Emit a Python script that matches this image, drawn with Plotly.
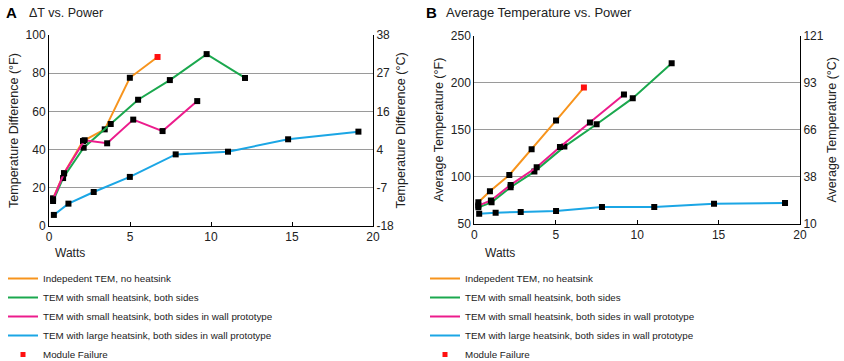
import plotly.graph_objects as go

# ---------------- data ----------------
series_names = [
    "Indepedent TEM, no heatsink",
    "TEM with small heatsink, both sides",
    "TEM with small heatsink, both sides in wall prototype",
    "TEM with large heatsink, both sides in wall prototype",
]
series_colors = ["#F7941D", "#1BA84E", "#EC1C8C", "#1BA6E5"]

# Panel A: Temperature difference (°F) vs watts
a_orange_x = [0.25, 0.93, 2.1, 3.44, 4.99, 6.7]
a_orange_y = [14.5, 27.6, 44.5, 50.6, 77.6, 88.5]
a_green_x = [0.25, 0.87, 2.14, 3.81, 5.5, 7.46, 9.73, 12.1]
a_green_y = [13.1, 25.1, 41.0, 53.4, 66.1, 76.4, 90.0, 77.5]
a_magenta_x = [0.25, 0.93, 2.2, 3.59, 5.2, 7.01, 9.15]
a_magenta_y = [14.0, 27.6, 44.9, 43.3, 55.7, 49.7, 65.4]
a_blue_x = [0.3, 1.2, 2.76, 4.99, 7.82, 11.05, 14.76, 19.1]
a_blue_y = [5.8, 11.7, 17.8, 25.7, 37.5, 38.9, 45.4, 49.4]

# Panel B: Average temperature (°F) vs watts
b_orange_x = [0.25, 0.96, 2.15, 3.52, 5.02, 6.73]
b_orange_y = [73.0, 84.7, 102.0, 129.3, 159.7, 194.8]
b_green_x = [0.25, 1.06, 2.23, 3.69, 5.53, 7.51, 9.73, 12.12]
b_green_y = [67.7, 73.0, 89.0, 105.6, 132.1, 155.8, 183.5, 220.6]
b_magenta_x = [0.25, 1.02, 2.23, 3.83, 5.26, 7.1, 9.19]
b_magenta_y = [69.5, 75.0, 91.5, 110.2, 131.8, 157.6, 187.3]
b_blue_x = [0.3, 1.31, 2.85, 5.02, 7.84, 11.05, 14.72, 19.08]
b_blue_y = [61.0, 62.0, 62.7, 63.8, 68.0, 68.0, 71.6, 72.3]

a_ticks_f = [0, 20, 40, 60, 80, 100]
a_ticks_c = ["-18", "-7", "4", "16", "27", "38"]
b_ticks_f = [50, 100, 150, 200, 250]
b_ticks_c = ["10", "38", "66", "93", "121"]
x_ticks = [0, 5, 10, 15, 20]

FONT = "Liberation Sans, Arial, sans-serif"
fig = go.Figure()

panels = [
    ("x", "y", [(a_orange_x, a_orange_y), (a_green_x, a_green_y),
                (a_magenta_x, a_magenta_y), (a_blue_x, a_blue_y)]),
    ("x2", "y3", [(b_orange_x, b_orange_y), (b_green_x, b_green_y),
                  (b_magenta_x, b_magenta_y), (b_blue_x, b_blue_y)]),
]
for xa, ya, data in panels:
    for i, (xs, ys) in enumerate(data):
        mcols = ["black"] * len(xs)
        if i == 0:
            mcols[-1] = "#FF1010"
        fig.add_trace(go.Scatter(
            x=xs, y=ys, xaxis=xa, yaxis=ya, mode="lines+markers",
            line=dict(color=series_colors[i], width=2),
            marker=dict(symbol="square", size=6, color=mcols),
            showlegend=False, hoverinfo="skip"))

# legend-only traces
for lg in ["legend", "legend2"]:
    for i, name in enumerate(series_names):
        fig.add_trace(go.Scatter(x=[None], y=[None], mode="lines", name=name,
                                 line=dict(color=series_colors[i], width=2),
                                 legend=lg, xaxis="x", yaxis="y"))
    fig.add_trace(go.Scatter(x=[None], y=[None], mode="markers", name="Module Failure",
                             marker=dict(symbol="square", size=5, color="#FF1010"),
                             legend=lg, xaxis="x", yaxis="y"))

fig.add_trace(go.Scatter(x=[None], y=[None], xaxis="x", yaxis="y2", showlegend=False))
fig.add_trace(go.Scatter(x=[None], y=[None], xaxis="x2", yaxis="y4", showlegend=False))

W, H = 844, 361
common = dict(showline=True, linecolor="black", linewidth=1, mirror=False, zeroline=False,
              automargin=False, tickfont=dict(size=12, color="#222"))
xcommon = dict(ticks="inside", ticklen=4, tickcolor="black", showgrid=False, **common)
ycommon = dict(ticks="", **common)
tfont = dict(size=12.5, color="#222")

fig.update_layout(
    width=W, height=H, margin=dict(l=0, r=0, t=0, b=0, autoexpand=False),
    paper_bgcolor="white", plot_bgcolor="white",
    font=dict(family=FONT, color="#222"),
    xaxis=dict(domain=[49 / W, 373 / W], range=[0, 20], tickvals=x_ticks, anchor="y", **xcommon),
    yaxis=dict(domain=[1 - 226 / H, 1 - 35 / H], range=[0, 100], tickvals=a_ticks_f,
               anchor="x", showgrid=True, gridcolor="#9a9a9a", gridwidth=1,
               title=dict(text="Temperature Difference (°F)", font=tfont, standoff=4),
               **ycommon),
    yaxis2=dict(overlaying="y", side="right", anchor="x", range=[0, 100], tickvals=a_ticks_f,
                ticktext=a_ticks_c, showgrid=False,
                title=dict(text="Temperature Difference (°C)", font=tfont, standoff=3),
                **ycommon),
    xaxis2=dict(domain=[474.3 / W, 800 / W], range=[0, 20], tickvals=x_ticks, anchor="y3",
                **xcommon),
    yaxis3=dict(domain=[1 - 224 / H, 1 - 35.5 / H], range=[50, 250], tickvals=b_ticks_f,
                anchor="x2", showgrid=True, gridcolor="#9a9a9a", gridwidth=1,
                title=dict(text="Average Temperature (°F)", font=tfont, standoff=4),
                **ycommon),
    yaxis4=dict(overlaying="y3", side="right", anchor="x2", range=[50, 250], tickvals=b_ticks_f,
                ticktext=b_ticks_c, showgrid=False,
                title=dict(text="Average Temperature (°C)", font=tfont, standoff=4),
                **ycommon),
    legend=dict(x=3 / W, y=1 - 264 / H, xanchor="left", yanchor="top", bgcolor="rgba(0,0,0,0)",
                font=dict(size=9.8, color="#222"), itemwidth=30, tracegroupgap=0),
    legend2=dict(x=425 / W, y=1 - 264 / H, xanchor="left", yanchor="top", bgcolor="rgba(0,0,0,0)",
                 font=dict(size=9.8, color="#222"), itemwidth=30, tracegroupgap=0),
    annotations=[
        dict(text="<b>A</b>", x=4 / W, y=1 - 13 / H, xref="paper", yref="paper",
             xanchor="left", yanchor="middle", showarrow=False,
             font=dict(size=15, color="black")),
        dict(text="ΔT vs. Power", x=27 / W, y=1 - 13 / H, xref="paper", yref="paper",
             xanchor="left", yanchor="middle", showarrow=False, font=dict(size=12.5)),
        dict(text="<b>B</b>", x=424 / W, y=1 - 13 / H, xref="paper", yref="paper",
             xanchor="left", yanchor="middle", showarrow=False,
             font=dict(size=15, color="black")),
        dict(text="Average Temperature vs. Power", x=444 / W, y=1 - 13 / H, xref="paper",
             yref="paper", xanchor="left", yanchor="middle", showarrow=False, font=dict(size=13)),
        dict(text="Watts", x=53 / W, y=1 - 253 / H, xref="paper", yref="paper",
             xanchor="left", yanchor="middle", showarrow=False, font=dict(size=12)),
        dict(text="Watts", x=483 / W, y=1 - 253 / H, xref="paper", yref="paper",
             xanchor="left", yanchor="middle", showarrow=False, font=dict(size=12)),
    ],
)

fig.write_html("out.html", config={"displayModeBar": False},
               post_script="document.body.style.margin='0';document.body.style.padding='0';")
